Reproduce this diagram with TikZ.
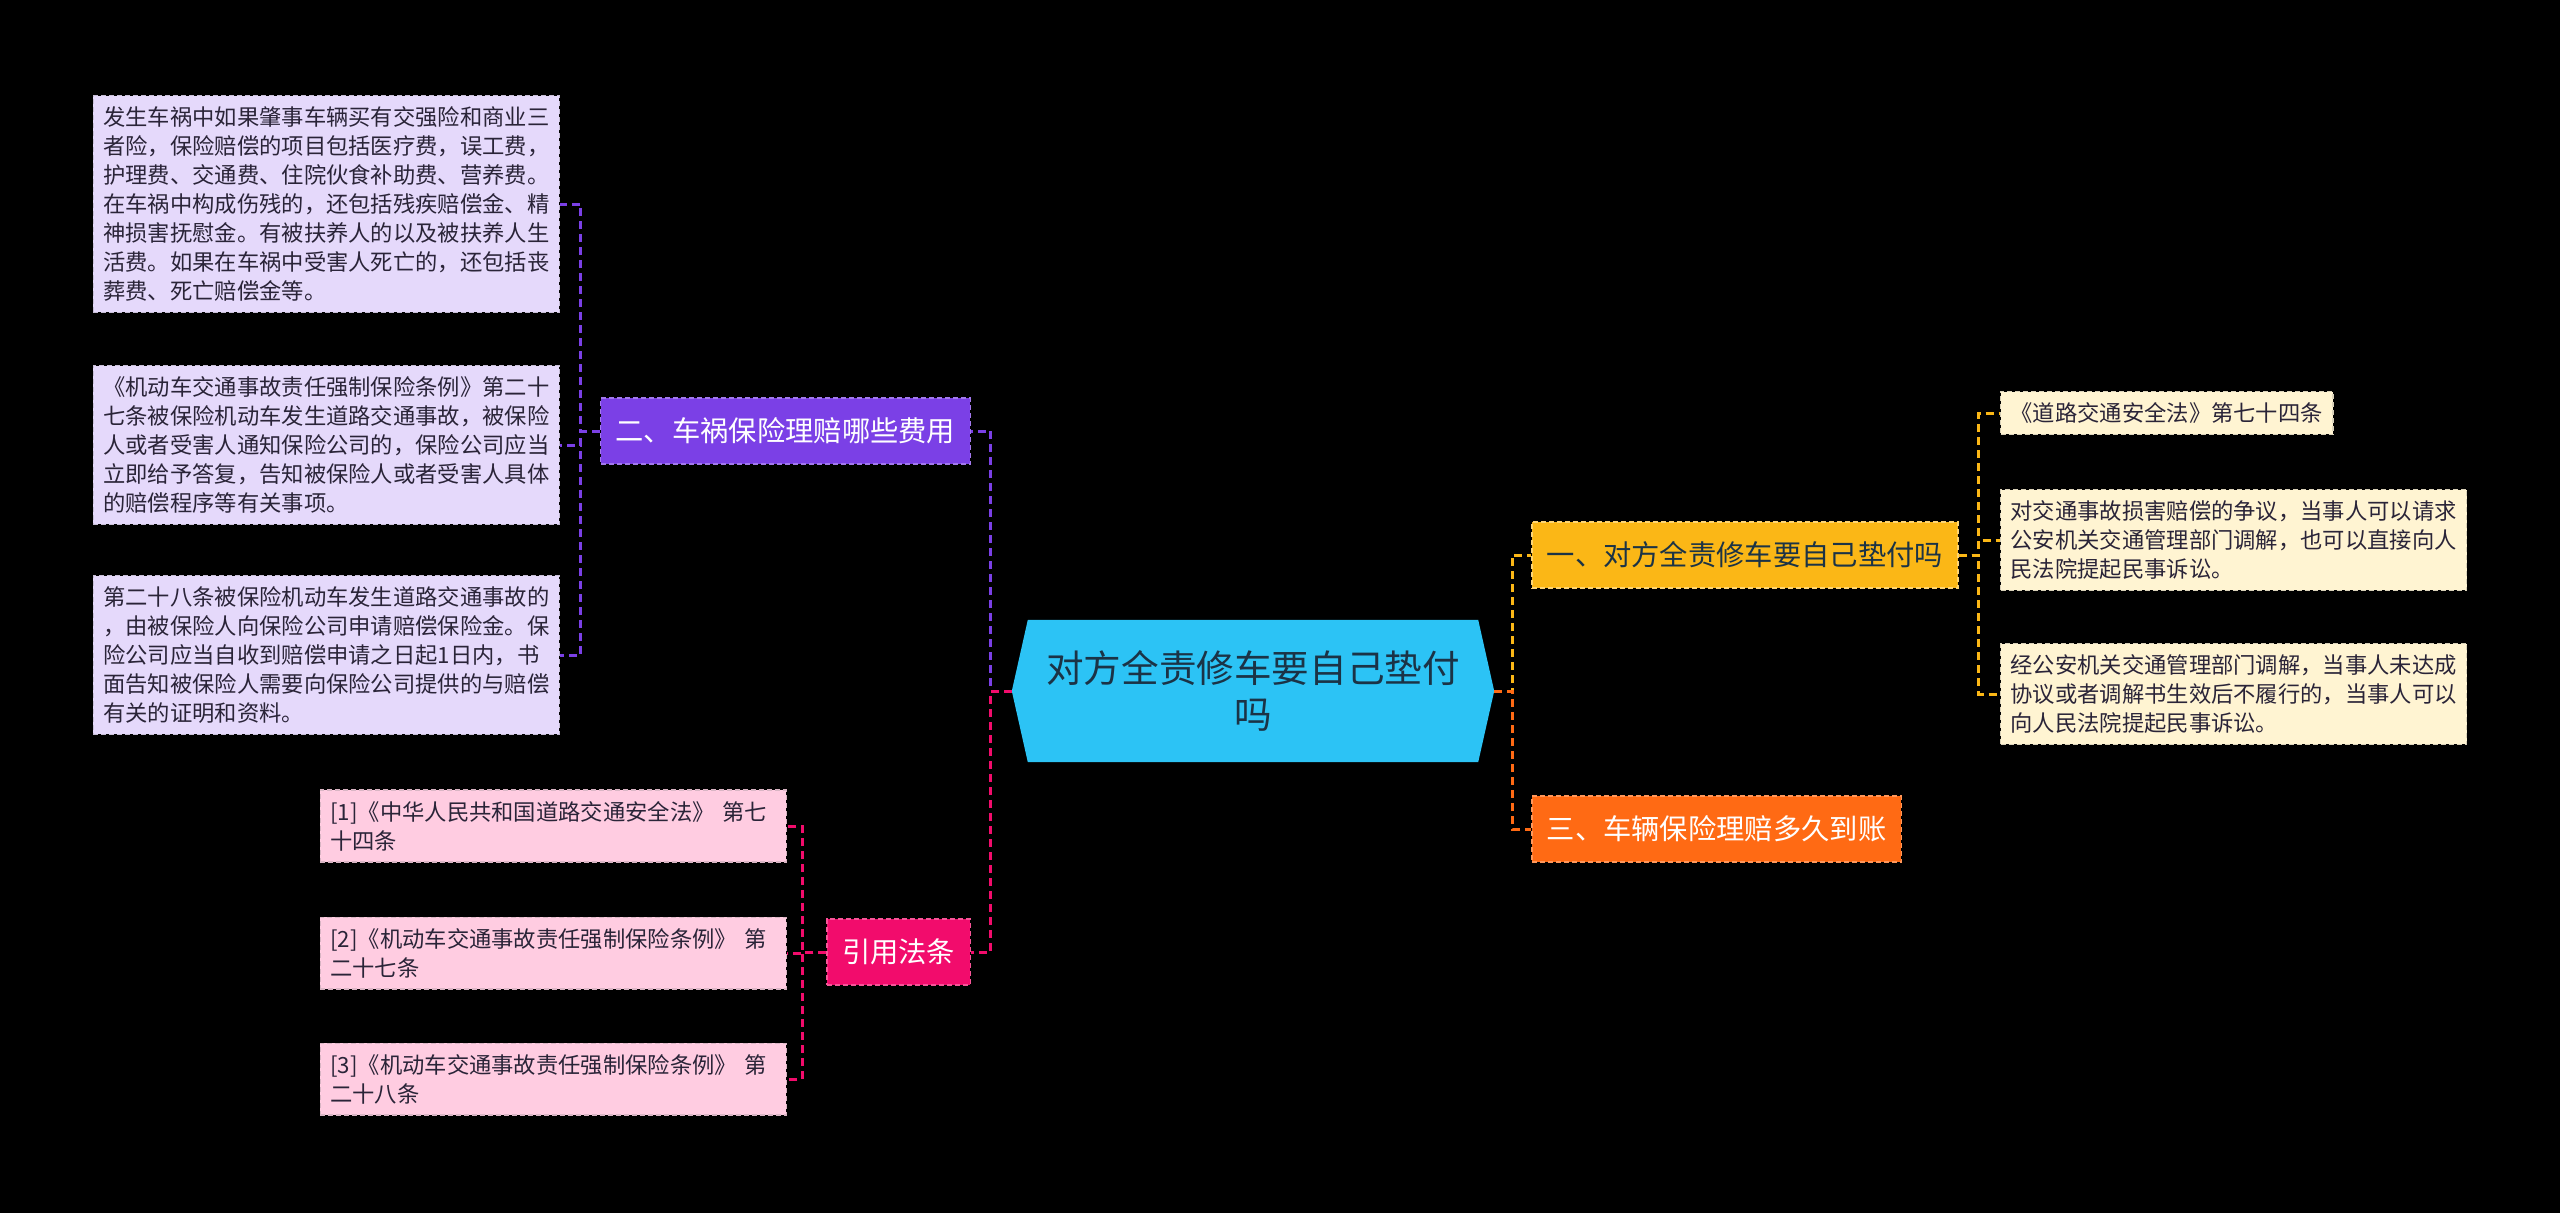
\documentclass[tikz,border=0pt]{standalone}
\usepackage{fontspec}
\setmainfont{Noto Sans CJK SC}
\usetikzlibrary{backgrounds}
\definecolor{rootblue}{HTML}{2CC3F5}
\definecolor{rootink}{HTML}{1B3346}
\definecolor{feepurple}{HTML}{7B40E6}
\definecolor{feelight}{HTML}{E5D9FB}
\definecolor{lawpink}{HTML}{F20C6C}
\definecolor{lawlight}{HTML}{FFCCE1}
\definecolor{payyellow}{HTML}{FBB716}
\definecolor{paylight}{HTML}{FFF4D2}
\definecolor{timeorange}{HTML}{FF6A14}
\definecolor{leafink}{HTML}{2A2438}
\newcommand{\leafwidth}{446pt}
\newcommand{\stublength}{21}

\begin{document}
\begin{tikzpicture}[x=1pt, y=-1pt,
    link/.style={line width=3pt, dash pattern=on 8pt off 5pt},
    rootnode/.style={rectangle, minimum width=482pt, minimum height=142pt, inner sep=0pt,
        align=center, text=rootink, font=\fontsize{37.6}{46}\selectfont},
    branch/.style={rectangle, draw, line width=1.5pt, dash pattern=on 5pt off 3pt,
        inner xsep=15pt, minimum height=66pt, font=\fontsize{28.3}{34}\selectfont},
    leaf/.style={rectangle, draw, line width=1.3pt, dash pattern=on 5pt off 3pt,
        inner xsep=10pt, inner ysep=11pt, align=left, text=leafink,
        font=\fontsize{22.3}{29}\selectfont},
    wideleaf/.style={leaf, text width=\leafwidth}]
    \begin{scope}[on background layer]
        \fill[black] (0,0) rectangle (2560,1213);
    \end{scope}
    \useasboundingbox (0,0) rectangle (2560,1213);

    % centre
    \node[rootnode] (root) at (1253,691) {对方全责修车要自己垫付\\吗};
    \begin{scope}[on background layer]
        \fill[rootblue] (root.west) -- ([xshift=16pt]root.north west) -- ([xshift=-16pt]root.north east)
            -- (root.east) -- ([xshift=-16pt]root.south east) -- ([xshift=16pt]root.south west) -- cycle;
    \end{scope}

    % left side
    \node[branch, anchor=east, fill=feepurple, draw=feepurple!70!white, text=white] (fees) at (971,431)
        {二、车祸保险理赔哪些费用};
    \node[branch, anchor=east, fill=lawpink, draw=lawpink!70!white, text=white] (laws) at (971,952)
        {引用法条};

    \node[wideleaf, anchor=east, fill=feelight, draw=feelight!70!gray] (feeone) at (560,204)
        {发生车祸中如果肇事车辆买有交强险和商业三\\者险，保险赔偿的项目包括医疗费，误工费，\\护理费、交通费、住院伙食补助费、营养费。\\在车祸中构成伤残的，还包括残疾赔偿金、精\\神损害抚慰金。有被扶养人的以及被扶养人生\\活费。如果在车祸中受害人死亡的，还包括丧\\葬费、死亡赔偿金等。};
    \node[wideleaf, anchor=east, fill=feelight, draw=feelight!70!gray] (feetwo) at (560,445)
        {《机动车交通事故责任强制保险条例》第二十\\七条被保险机动车发生道路交通事故，被保险\\人或者受害人通知保险公司的，保险公司应当\\立即给予答复，告知被保险人或者受害人具体\\的赔偿程序等有关事项。};
    \node[wideleaf, anchor=east, fill=feelight, draw=feelight!70!gray] (feethree) at (560,655)
        {第二十八条被保险机动车发生道路交通事故的\\，由被保险人向保险公司申请赔偿保险金。保\\险公司应当自收到赔偿申请之日起1日内，书\\面告知被保险人需要向保险公司提供的与赔偿\\有关的证明和资料。};

    \node[wideleaf, anchor=east, fill=lawlight, draw=lawlight!70!gray] (lawone) at (787,826)
        {[1]《中华人民共和国道路交通安全法》 第七\\十四条};
    \node[wideleaf, anchor=east, fill=lawlight, draw=lawlight!70!gray] (lawtwo) at (787,953)
        {[2]《机动车交通事故责任强制保险条例》 第\\二十七条};
    \node[wideleaf, anchor=east, fill=lawlight, draw=lawlight!70!gray] (lawthree) at (787,1079)
        {[3]《机动车交通事故责任强制保险条例》 第\\二十八条};

    % right side
    \node[branch, anchor=west, fill=payyellow, draw=payyellow!60!white, text=rootink] (pay) at (1531,555)
        {一、对方全责修车要自己垫付吗};
    \node[branch, anchor=west, fill=timeorange, draw=timeorange!70!white, text=white] (time) at (1531,829)
        {三、车辆保险理赔多久到账};

    \node[leaf, anchor=west, fill=paylight, draw=paylight!70!gray] (payone) at (2000,413)
        {《道路交通安全法》第七十四条};
    \node[wideleaf, anchor=west, fill=paylight, draw=paylight!70!gray] (paytwo) at (2000,540)
        {对交通事故损害赔偿的争议，当事人可以请求\\公安机关交通管理部门调解，也可以直接向人\\民法院提起民事诉讼。};
    \node[wideleaf, anchor=west, fill=paylight, draw=paylight!70!gray] (paythree) at (2000,694)
        {经公安机关交通管理部门调解，当事人未达成\\协议或者调解书生效后不履行的，当事人可以\\向人民法院提起民事诉讼。};

    % connectors
    \draw[link, feepurple] (root.west) -- ++(-\stublength,0) |- (fees.east);
    \draw[link, lawpink] (root.west) -- ++(-\stublength,0) |- (laws.east);
    \draw[link, payyellow] (root.east) -- ++(18,0) |- (pay.west);
    \draw[link, timeorange] (root.east) -- ++(18,0) |- (time.west);

    \draw[link, feepurple] (fees.west) -- ++(-19,0) |- (feeone.east);
    \draw[link, feepurple] (fees.west) -- ++(-19,0) |- (feetwo.east);
    \draw[link, feepurple] (fees.west) -- ++(-19,0) |- (feethree.east);

    \draw[link, lawpink] (laws.west) -- ++(-24,0) |- (lawone.east);
    \draw[link, lawpink] (laws.west) -- ++(-24,0) |- (lawtwo.east);
    \draw[link, lawpink] (laws.west) -- ++(-24,0) |- (lawthree.east);

    \draw[link, payyellow] (pay.east) -- ++(20,0) |- (payone.west);
    \draw[link, payyellow] (pay.east) -- ++(20,0) |- (paytwo.west);
    \draw[link, payyellow] (pay.east) -- ++(20,0) |- (paythree.west);
\end{tikzpicture}
\end{document}
